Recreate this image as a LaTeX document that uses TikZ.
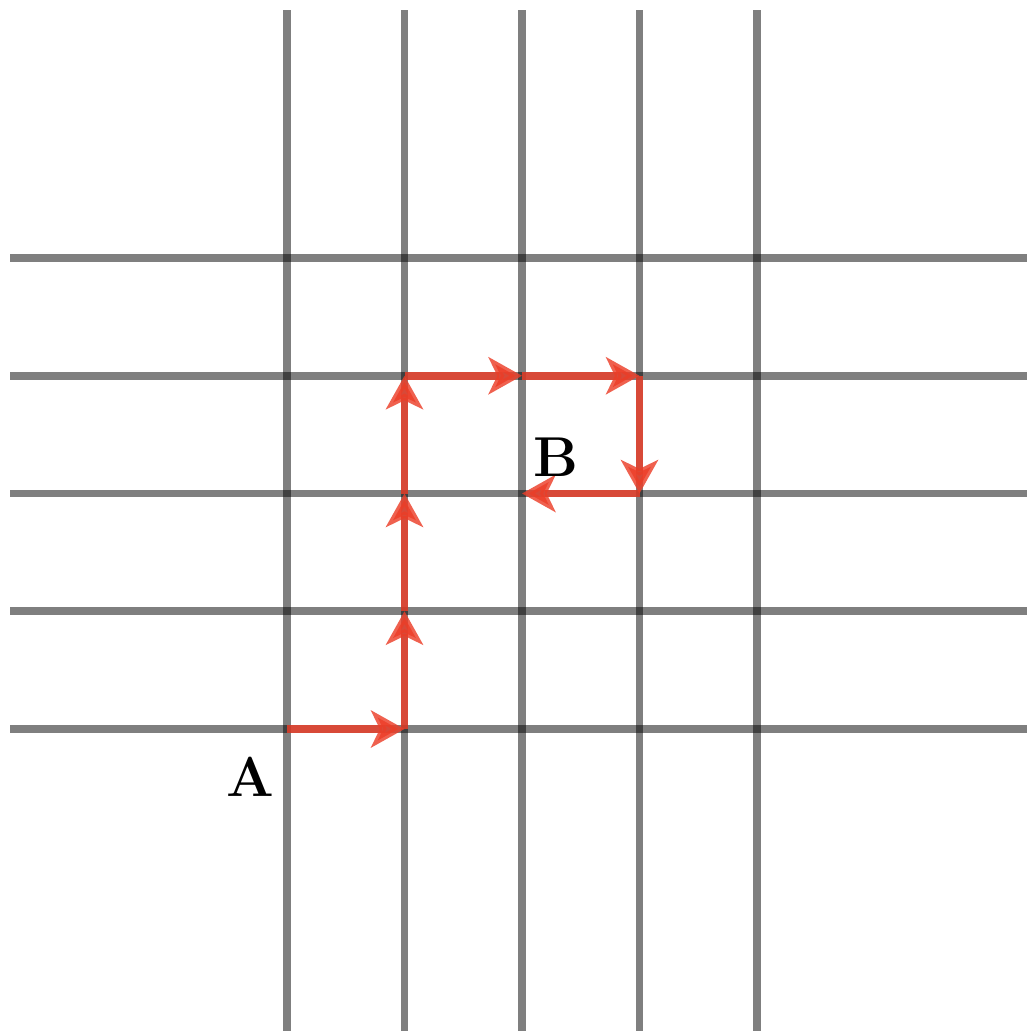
\documentclass[tikz,border=0pt]{standalone}
\usepackage{fontspec}
\usetikzlibrary{arrows.meta}

\definecolor{pathred}{RGB}{236,62,40}

\tikzset{
  gridline/.style={line width=4.5pt, black, opacity=0.5},
  walk/.style={line width=4.3pt, pathred, opacity=0.82,
    -{Stealth[length=19pt, width=21pt, inset=5pt]}},
  pointlabel/.style={font=\bfseries\fontsize{32}{38}\selectfont}
}

\begin{document}
\begin{tikzpicture}[x=0.02cm, y=-0.02cm]
	\useasboundingbox (0,0) rectangle (1027,1031);
	% grid points
	\foreach \i in {0,...,4}
		\foreach \j in {0,...,4}
			\coordinate (g\i\j) at ({287+117.5*\i}, {258+117.75*\j});
	% grid
	\foreach \i in {0,...,4}
		\draw[gridline] ({287+117.5*\i},10) -- ({287+117.5*\i},1031);
	\foreach \j in {0,...,4}
		\draw[gridline] (10,{258+117.75*\j}) -- (1027,{258+117.75*\j});
	% walk from A to B
	\draw[walk] (g04) -- (g14);
	\draw[walk] (g14) -- (g13);
	\draw[walk] (g13) -- (g12);
	\draw[walk] (g12) -- (g11);
	\draw[walk] (g11) -- (g21);
	\draw[walk] (g21) -- (g31);
	\draw[walk] (g31) -- (g32);
	\draw[walk] (g32) -- (g22);
	\node[pointlabel] (A) at (250,777) {A};
	\node[pointlabel] (B) at (556,457) {B};
\end{tikzpicture}
\end{document}
